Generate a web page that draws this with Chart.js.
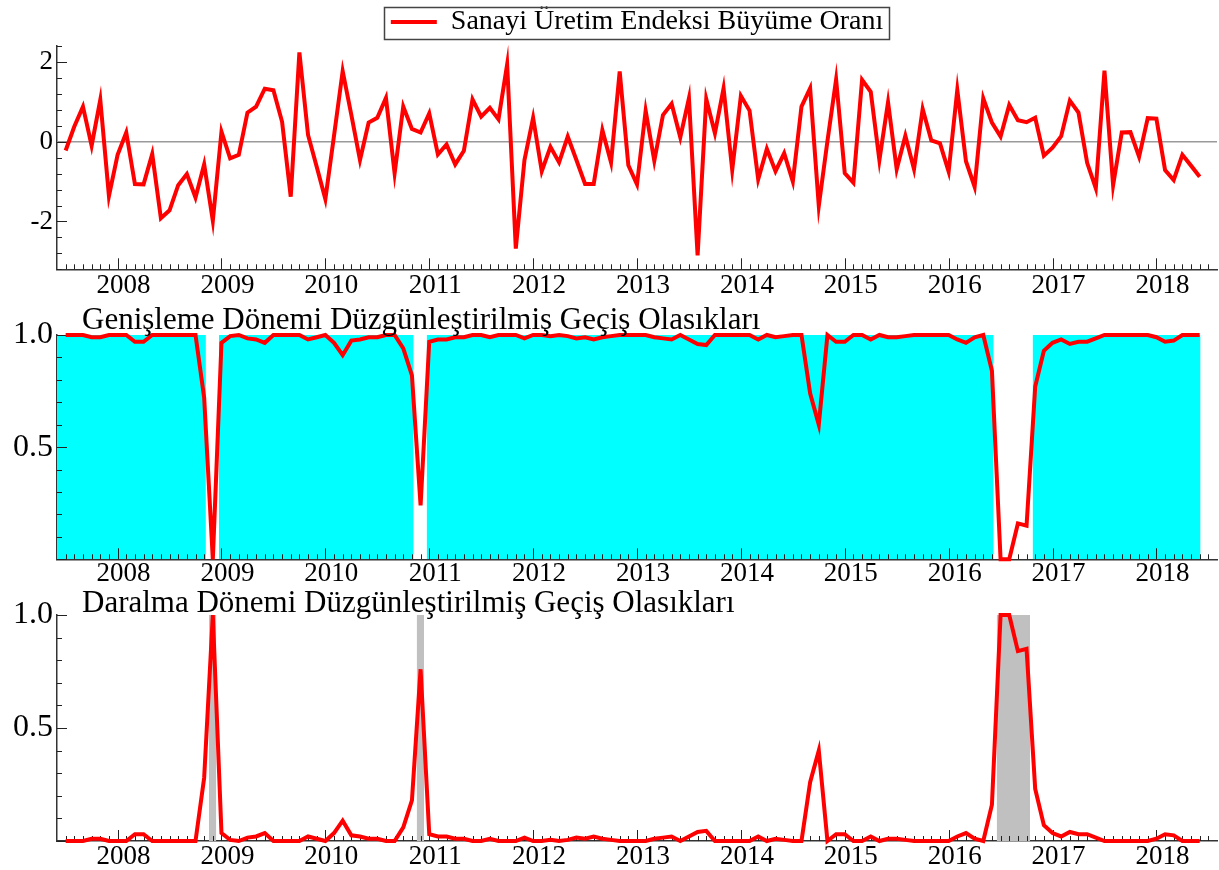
<!DOCTYPE html>
<html>
<head>
<meta charset="utf-8">
<script src="https://cdn.jsdelivr.net/npm/chart.js@4/dist/chart.umd.min.js"></script>
<style>
html, body { margin: 0; padding: 0; background: #ffffff; }
#wrap { position: relative; width: 1219px; height: 870px; overflow: hidden; }
canvas { position: absolute; left: 0; }
</style>
</head>
<body>
<div id="wrap">
  <canvas id="c1" width="1219" height="300" style="top:0px"></canvas>
  <canvas id="c2" width="1219" height="288" style="top:300px"></canvas>
  <canvas id="c3" width="1219" height="282" style="top:588px"></canvas>
</div>
<script>
// ---------------- DATA ----------------
const startYear = 2007;
const startMonth = 7; // first observation: 2007(7), monthly

const yearTicks = [2008, 2009, 2010, 2011, 2012, 2013, 2014, 2015, 2016, 2017, 2018];
const growthTicks = [-2, 0, 2];
const probTicks = [0.5, 1.0];

const seriesLabel = 'Sanayi Üretim Endeksi Büyüme Oranı';
const expansionTitle = 'Genişleme Dönemi Düzgünleştirilmiş Geçiş Olasıkları';
const contractionTitle = 'Daralma Dönemi Düzgünleştirilmiş Geçiş Olasıkları';

const growthRate = [
  -0.22, 0.38, 0.88, -0.10, 1.05, -1.36, -0.33, 0.23, -1.06, -1.07,
  -0.31, -1.92, -1.72, -1.09, -0.81, -1.40, -0.57, -1.98, 0.25, -0.42,
  -0.33, 0.73, 0.88, 1.33, 1.29, 0.50, -1.38, 2.24, 0.17, -0.63,
  -1.44, 0.15, 1.77, 0.67, -0.46, 0.48, 0.60, 1.10, -0.79, 0.88,
  0.32, 0.23, 0.71, -0.32, -0.07, -0.57, -0.23, 1.06, 0.63, 0.85,
  0.56, 1.94, -2.68, -0.46, 0.60, -0.74, -0.13, -0.52, 0.13, -0.46,
  -1.06, -1.06, 0.29, -0.52, 1.76, -0.59, -1.07, 0.78, -0.48, 0.67,
  0.95, 0.11, 1.09, -2.85, 1.07, 0.21, 1.34, -0.71, 1.15, 0.78,
  -0.94, -0.18, -0.74, -0.29, -1.00, 0.88, 1.34, -1.61, 0.02, 1.56,
  -0.79, -1.03, 1.55, 1.25, -0.46, 0.99, -0.69, 0.15, -0.69, 0.82,
  0.03, -0.04, -0.75, 1.30, -0.49, -1.13, 1.09, 0.48, 0.13, 0.92,
  0.54, 0.49, 0.60, -0.35, -0.15, 0.14, 1.03, 0.73, -0.53, -1.17,
  1.78, -1.09, 0.23, 0.24, -0.38, 0.59, 0.58, -0.71, -0.96, -0.33,
  -0.60, -0.88
];

const expansionProb = [
  1.00, 1.00, 1.00, 0.99, 0.99, 1.00, 1.00, 1.00, 0.97, 0.97,
  1.00, 1.00, 1.00, 1.00, 1.00, 1.00, 0.72, 0.00, 0.965, 0.995,
  1.00, 0.985, 0.98, 0.965, 1.00, 1.00, 1.00, 1.00, 0.98, 0.99,
  1.00, 0.965, 0.91, 0.975, 0.98, 0.99, 0.99, 1.00, 1.00, 0.94,
  0.82, 0.24, 0.97, 0.98, 0.98, 0.99, 0.99, 1.00, 1.00, 0.99,
  1.00, 1.00, 1.00, 0.985, 1.00, 1.00, 0.995, 1.00, 0.995, 0.985,
  0.99, 0.98, 0.99, 0.995, 1.00, 1.00, 1.00, 1.00, 0.99, 0.985,
  0.98, 1.00, 0.98, 0.96, 0.955, 1.00, 1.00, 1.00, 1.00, 1.00,
  0.98, 1.00, 0.99, 0.995, 1.00, 1.00, 0.74, 0.60, 1.00, 0.97,
  0.97, 1.00, 1.00, 0.98, 1.00, 0.99, 0.99, 0.995, 1.00, 1.00,
  1.00, 1.00, 1.00, 0.98, 0.965, 0.99, 1.00, 0.84, 0.00, 0.00,
  0.16, 0.15, 0.77, 0.93, 0.965, 0.98, 0.96, 0.97, 0.97, 0.985,
  1.00, 1.00, 1.00, 1.00, 1.00, 1.00, 0.99, 0.97, 0.975, 1.00,
  1.00, 1.00
];

const contractionProb = [
  0.00, 0.00, 0.00, 0.01, 0.01, 0.00, 0.00, 0.00, 0.03, 0.03,
  0.00, 0.00, 0.00, 0.00, 0.00, 0.00, 0.28, 1.00, 0.035, 0.005,
  0.00, 0.015, 0.02, 0.035, 0.00, 0.00, 0.00, 0.00, 0.02, 0.01,
  0.00, 0.035, 0.09, 0.025, 0.02, 0.01, 0.01, 0.00, 0.00, 0.06,
  0.18, 0.76, 0.03, 0.02, 0.02, 0.01, 0.01, 0.00, 0.00, 0.01,
  0.00, 0.00, 0.00, 0.015, 0.00, 0.00, 0.005, 0.00, 0.005, 0.015,
  0.01, 0.02, 0.01, 0.005, 0.00, 0.00, 0.00, 0.00, 0.01, 0.015,
  0.02, 0.00, 0.02, 0.04, 0.045, 0.00, 0.00, 0.00, 0.00, 0.00,
  0.02, 0.00, 0.01, 0.005, 0.00, 0.00, 0.26, 0.40, 0.00, 0.03,
  0.03, 0.00, 0.00, 0.02, 0.00, 0.01, 0.01, 0.005, 0.00, 0.00,
  0.00, 0.00, 0.00, 0.02, 0.035, 0.01, 0.00, 0.16, 1.00, 1.00,
  0.84, 0.85, 0.23, 0.07, 0.035, 0.02, 0.04, 0.03, 0.03, 0.015,
  0.00, 0.00, 0.00, 0.00, 0.00, 0.00, 0.01, 0.03, 0.025, 0.00,
  0.00, 0.00
];

// months classified as contraction regime (first, last)
const contractionPeriods = [
  ['2008-12', '2008-12'],
  ['2010-12', '2010-12'],
  ['2016-07', '2016-10']
];

// ---------------- HELPERS ----------------
const SERIF = "'Liberation Serif', 'Times New Roman', Times, serif";
const N = growthRate.length;
const xMin = -1, xMax = N + 1;

function mIndex(s) {
  const [y, m] = String(s).split('-').map(Number);
  return (y - startYear) * 12 + ((m || 1) - startMonth);
}
function pts(arr) { return arr.map((v, i) => ({ x: i, y: v })); }

const contrIdx = contractionPeriods.map(([a, b]) => [mIndex(a), mIndex(b)]);
const expansionBands = [];
(function () {
  let cur = xMin;
  contrIdx.forEach(([a, b]) => { expansionBands.push([cur, a - 0.8]); cur = b + 0.7; });
  expansionBands.push([cur, N - 1 + 0.1]);
})();
const contractionBands = contrIdx.map(([a, b]) => [a - 0.45, b + 0.4]);

function bandDatasets(bands, color) {
  return bands.map(([a, b]) => ({
    label: '',
    data: [{ x: a, y: 1 }, { x: b, y: 1 }],
    borderColor: 'rgba(0,0,0,0)',
    borderWidth: 0,
    backgroundColor: color,
    pointRadius: 0,
    fill: 'origin',
    order: 5
  }));
}

function redLine(label, arr) {
  return {
    label: label,
    data: pts(arr),
    borderColor: '#ff0000',
    backgroundColor: '#ff0000',
    borderWidth: 4,
    pointRadius: 0,
    tension: 0,
    fill: false,
    clip: false,
    order: 0
  };
}

function xScale(h, pad) {
  return {
    type: 'linear', min: xMin, max: xMax,
    afterBuildTicks: s => { s.ticks = yearTicks.map(y => ({ value: mIndex(y + '-01') })); },
    ticks: {
      callback: v => String(startYear + Math.floor((v + startMonth - 1) / 12)),
      font: { family: SERIF, size: 27, lineHeight: 1 },
      color: '#000', padding: pad, labelOffset: 6, maxRotation: 0, minRotation: 0, autoSkip: false
    },
    grid: { display: true, drawOnChartArea: false, drawTicks: false },
    border: { display: true, color: '#333', width: 1.5 },
    afterFit: s => { s.height = h; }
  };
}

function yScale(min, max, tickVals, size, fmt) {
  return {
    type: 'linear', min: min, max: max,
    afterBuildTicks: s => { s.ticks = tickVals.map(v => ({ value: v })); },
    ticks: { callback: fmt, font: { family: SERIF, size: size, lineHeight: 1.2 }, color: '#000', padding: 4 },
    grid: { display: true, drawOnChartArea: false, drawTicks: false },
    border: { display: true, color: '#333', width: 1.5 },
    afterFit: s => { s.width = 57; }
  };
}

// inward tick marks (monthly minor, yearly major on x; minor/major on y)
const tickMarks = {
  id: 'tickMarks',
  beforeDatasetDraw(chart, args, opts) {
    if (args.index !== 0) return;
    const { ctx, chartArea: a, scales: { x, y } } = chart;
    ctx.save();
    ctx.strokeStyle = '#222';
    ctx.lineWidth = 1;
    ctx.beginPath();
    for (let m = 0; m <= N; m++) {
      const px = Math.round(x.getPixelForValue(m)) + 0.5;
      const len = ((m + startMonth - 1) % 12 === 0) ? 11 : 5;
      ctx.moveTo(px, a.bottom);
      ctx.lineTo(px, a.bottom - len);
    }
    const steps = Math.round((opts.max - opts.min) / opts.minor);
    for (let k = 0; k <= steps; k++) {
      const v = opts.min + k * opts.minor;
      const r = v / opts.major;
      const major = Math.abs(r - Math.round(r)) < 1e-6;
      const py = Math.round(y.getPixelForValue(v)) + 0.5;
      ctx.moveTo(a.left, py);
      ctx.lineTo(a.left + (major ? 10 : 5), py);
    }
    ctx.stroke();
    ctx.restore();
  }
};

const zeroLine = {
  id: 'zeroLine',
  beforeDatasetsDraw(chart) {
    const { ctx, chartArea: a, scales: { y } } = chart;
    const py = y.getPixelForValue(0);
    ctx.save();
    ctx.strokeStyle = '#9a9a9a';
    ctx.lineWidth = 1.5;
    ctx.beginPath();
    ctx.moveTo(a.left, py);
    ctx.lineTo(a.right, py);
    ctx.stroke();
    ctx.restore();
  }
};

const legendFrame = {
  id: 'legendFrame',
  afterDraw(chart) {
    const lg = chart.legend;
    if (!lg || !lg.legendHitBoxes || !lg.legendHitBoxes.length) return;
    const hb = lg.legendHitBoxes[0];
    const ctx = chart.ctx;
    ctx.save();
    ctx.strokeStyle = '#444';
    ctx.lineWidth = 1.5;
    ctx.strokeRect(Math.round(hb.left - 7) + 0.5, Math.round(hb.top - 1) + 0.5,
                   Math.round(hb.width + 13), Math.round(hb.height + 4));
    ctx.restore();
  }
};

const panelTitle = {
  id: 'panelTitle',
  afterDraw(chart, args, opts) {
    if (!opts || !opts.text) return;
    const { ctx, chartArea: a } = chart;
    ctx.save();
    ctx.font = '31px ' + SERIF;
    ctx.fillStyle = '#000';
    ctx.textAlign = 'left';
    ctx.textBaseline = 'alphabetic';
    ctx.fillText(opts.text, a.left + 25, a.top - opts.gap);
    ctx.restore();
  }
};

Chart.defaults.font.family = SERIF;
Chart.defaults.color = '#000';

const common = {
  responsive: false,
  maintainAspectRatio: false,
  animation: false,
  devicePixelRatio: 1,
  events: []
};

// ---------------- PANEL 1 ----------------
new Chart(document.getElementById('c1'), {
  type: 'line',
  data: { datasets: [redLine(seriesLabel, growthRate)] },
  options: Object.assign({}, common, {
    layout: { padding: { top: 0, right: 2, bottom: 0, left: 0 } },
    scales: {
      x: xScale(30.7, 3),
      y: yScale(-3.2, 2.4, growthTicks, 27, v => String(v))
    },
    plugins: {
      legend: {
        display: true, position: 'top', align: 'center', fullSize: false,
        labels: {
          usePointStyle: true, pointStyle: 'line', pointStyleWidth: 46, boxHeight: 28,
          font: { family: SERIF, size: 28 }, color: '#000', padding: 8
        }
      },
      tooltip: { enabled: false },
      tickMarks: { min: -3.2, max: 2.4, minor: 0.4, major: 2 }
    }
  }),
  plugins: [zeroLine, tickMarks, legendFrame]
});

// ---------------- PANEL 2 ----------------
new Chart(document.getElementById('c2'), {
  type: 'line',
  data: { datasets: [redLine('expansion', expansionProb)].concat(bandDatasets(expansionBands, '#00ffff')) },
  options: Object.assign({}, common, {
    layout: { padding: { top: 35, right: 2, bottom: 0, left: 0 } },
    scales: {
      x: xScale(28.7, 1),
      y: yScale(0, 1, probTicks, 32, v => Number(v).toFixed(1))
    },
    plugins: {
      legend: { display: false },
      tooltip: { enabled: false },
      tickMarks: { min: 0, max: 1, minor: 0.1, major: 0.5 },
      panelTitle: { text: expansionTitle, gap: 6 }
    }
  }),
  plugins: [tickMarks, panelTitle]
});

// ---------------- PANEL 3 ----------------
new Chart(document.getElementById('c3'), {
  type: 'line',
  data: { datasets: [redLine('contraction', contractionProb)].concat(bandDatasets(contractionBands, '#c0c0c0')) },
  options: Object.assign({}, common, {
    layout: { padding: { top: 27, right: 2, bottom: 0, left: 0 } },
    scales: {
      x: xScale(29, 2),
      y: yScale(0, 1, probTicks, 32, v => Number(v).toFixed(1))
    },
    plugins: {
      legend: { display: false },
      tooltip: { enabled: false },
      tickMarks: { min: 0, max: 1, minor: 0.1, major: 0.5 },
      panelTitle: { text: contractionTitle, gap: 3.5 }
    }
  }),
  plugins: [tickMarks, panelTitle]
});
</script>
</body>
</html>
